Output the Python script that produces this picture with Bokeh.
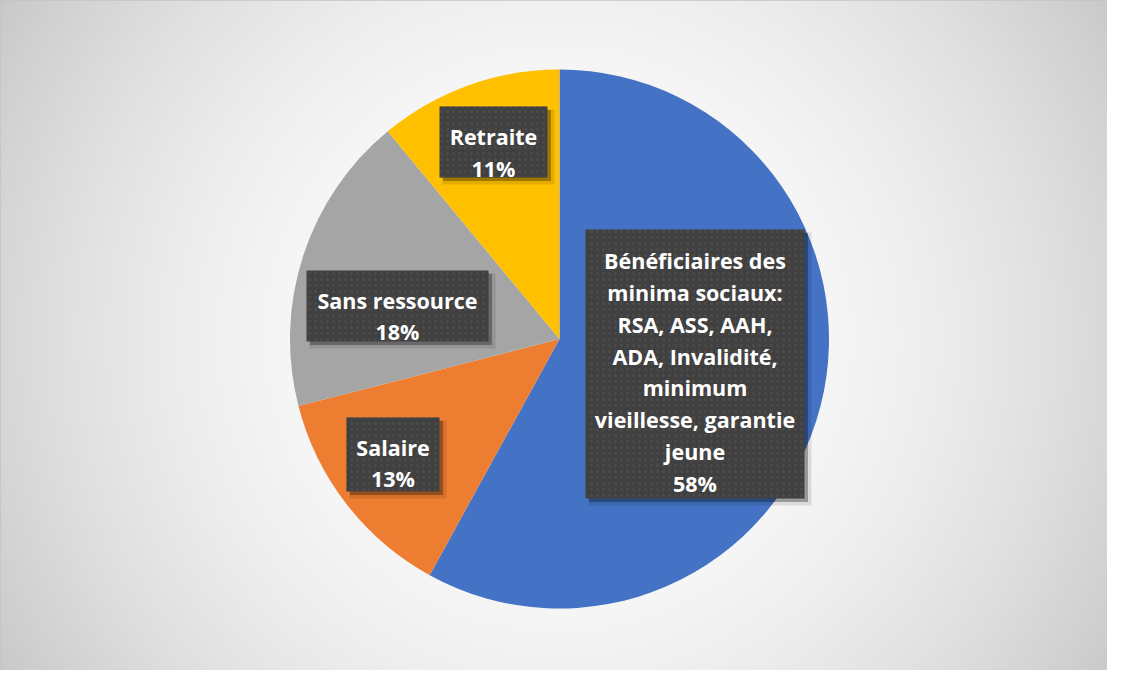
import numpy as np
from bokeh.plotting import figure
from bokeh.models import Range1d, ColumnDataSource
from bokeh.core.properties import value
from bokeh.embed import file_html
from bokeh.resources import INLINE

# ---- data ----
categories = [
    "Bénéficiaires des\nminima sociaux:\nRSA, ASS, AAH,\nADA, Invalidité,\nminimum\nvieillesse, garantie\njeune",
    "Salaire",
    "Sans ressource",
    "Retraite",
]
shares = [58, 13, 18, 11]
colors = ["#4472C4", "#ED7D31", "#A5A5A5", "#FFC000"]

# ---- layout ----
W, H = 1107, 670
def px(x):  # page x -> data x
    return x - 8
def py(y):  # page y -> data y
    return H + 8 - y

p = figure(width=W, height=H, output_backend="svg", toolbar_location=None,
           x_range=Range1d(0, W), y_range=Range1d(0, H), min_border=0)
p.axis.visible = False
p.grid.visible = False
p.outline_line_color = "#c4c4c4"
p.outline_line_width = 1.5
p.background_fill_color = "white"
p.border_fill_color = "white"

# radial gradient background
gw, gh = W // 2, H // 2
cx, cy = px(566), py(346)
xs = (np.arange(gw) + 0.5) * (W / gw)
ys = (np.arange(gh) + 0.5) * (H / gh)
X, Y = np.meshgrid(xs, ys)
R = np.sqrt((X - cx) ** 2 + (Y - cy) ** 2)
v = np.clip(255 - 55 * (R / 655.0) ** 2, 195, 255).astype(np.uint8)
img = np.empty((gh, gw), dtype=np.uint32)
view = img.view(dtype=np.uint8).reshape((gh, gw, 4))
view[:, :, 0] = v
view[:, :, 1] = v
view[:, :, 2] = v
view[:, :, 3] = 255
p.image_rgba(image=[img], x=0, y=0, dw=W, dh=H)

# pie
total = float(sum(shares))
cum = np.cumsum([0] + shares) / total
starts = [np.pi / 2 - 2 * np.pi * cum[i] for i in range(len(shares))]
ends = [np.pi / 2 - 2 * np.pi * cum[i + 1] for i in range(len(shares))]
pie_x, pie_y, pie_r = px(567), py(346.5), 269.5
src = ColumnDataSource(dict(start=starts, end=ends, color=colors))
p.wedge(x=pie_x, y=pie_y, radius=pie_r, start_angle="start", end_angle="end",
        direction="clock", fill_color="color", line_color=None, source=src)

# label boxes (page coordinates: left, top, right, bottom) and text centers
boxes = [
    (593, 237, 812, 506, 373),
    (354, 425, 447, 499, 464),
    (314, 278, 496, 349, 317),
    (447, 114, 555, 185, 153.5),
]
bx, by, bw, bh, tx, ty, texts = [], [], [], [], [], [], []
for (l, t, r, b, tc), cat, s in zip(boxes, categories, shares):
    bx.append(px((l + r) / 2)); by.append(py((t + b) / 2))
    bw.append(r - l); bh.append(b - t)
    tx.append(px((l + r) / 2)); ty.append(py(tc + 6.5))
    texts.append(f"{cat}\n{s}%")
lab = ColumnDataSource(dict(x=bx, y=by, w=bw, h=bh, tx=tx, ty=ty, text=texts))

# shadows
p.rect(x=[x + 5 for x in bx], y=[y - 5 for y in by], width=[w + 4 for w in bw],
       height=[h + 4 for h in bh], fill_color="black", fill_alpha=0.10, line_color=None)
p.rect(x=[x + 3.5 for x in bx], y=[y - 3.5 for y in by], width=bw, height=bh,
       fill_color="black", fill_alpha=0.30, line_color=None)
# boxes
p.rect(x="x", y="y", width="w", height="h", source=lab, fill_color="#404040",
       line_color=None, hatch_pattern="dot", hatch_color="#4b4b4b",
       hatch_scale=6, hatch_weight=1)
p.text(x="tx", y="ty", text="text", source=lab, text_color="white",
       text_font=value("Open Sans"), text_font_style="bold", text_font_size="21.5px",
       text_align="center", text_baseline="middle", text_line_height=1.10)

open("out.html", "w").write(file_html(p, INLINE))
